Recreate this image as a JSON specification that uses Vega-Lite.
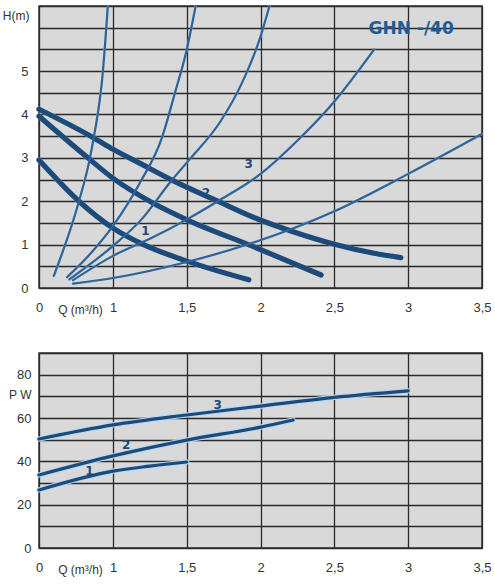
{
  "$schema": "https://vega.github.io/schema/vega-lite/v6.json",
  "padding": {"left": 1, "top": 0, "right": 8, "bottom": 5},
  "background": "white",
  "spacing": 36,
  "config": {
    "view": {"fill": "#d9d9d9", "stroke": "#333333", "strokeWidth": 1.5},
    "axis": {
      "grid": true, "gridColor": "#2a2a2a", "gridWidth": 1.3, "gridOpacity": 1,
      "domain": false, "ticks": false,
      "labelFont": "Liberation Sans", "labelFontSize": 13, "labelColor": "#333333",
      "titleFont": "Liberation Sans", "titleFontWeight": "normal", "titleColor": "#333333", "titleFontSize": 12
    }
  },
  "datasets": {
    "head": [
      {"curve": "A", "kind": "thick", "q": 0, "h": 4.12},
      {"curve": "A", "kind": "thick", "q": 0.74, "h": 3.46},
      {"curve": "A", "kind": "thick", "q": 1.0, "h": 3.2},
      {"curve": "A", "kind": "thick", "q": 1.19, "h": 2.86},
      {"curve": "A", "kind": "thick", "q": 1.41, "h": 2.47},
      {"curve": "A", "kind": "thick", "q": 1.71, "h": 2.0},
      {"curve": "A", "kind": "thick", "q": 1.98, "h": 1.59},
      {"curve": "A", "kind": "thick", "q": 2.21, "h": 1.31},
      {"curve": "A", "kind": "thick", "q": 2.5, "h": 1.01},
      {"curve": "A", "kind": "thick", "q": 2.77, "h": 0.8},
      {"curve": "A", "kind": "thick", "q": 2.95, "h": 0.7},
      {"curve": "B", "kind": "thick", "q": 0, "h": 3.96},
      {"curve": "B", "kind": "thick", "q": 0.66, "h": 3.0},
      {"curve": "B", "kind": "thick", "q": 1.0, "h": 2.53},
      {"curve": "B", "kind": "thick", "q": 1.27, "h": 1.96},
      {"curve": "B", "kind": "thick", "q": 1.49, "h": 1.59},
      {"curve": "B", "kind": "thick", "q": 1.94, "h": 0.97},
      {"curve": "B", "kind": "thick", "q": 2.41, "h": 0.3},
      {"curve": "C", "kind": "thick", "q": 0, "h": 2.95},
      {"curve": "C", "kind": "thick", "q": 0.54, "h": 2.0},
      {"curve": "C", "kind": "thick", "q": 1.0, "h": 1.38},
      {"curve": "C", "kind": "thick", "q": 1.2, "h": 1.01},
      {"curve": "C", "kind": "thick", "q": 1.5, "h": 0.62},
      {"curve": "C", "kind": "thick", "q": 1.92, "h": 0.19},
      {"curve": "T1", "kind": "thin", "q": 0.2, "h": 0.28},
      {"curve": "T1", "kind": "thin", "q": 0.54, "h": 2.0},
      {"curve": "T1", "kind": "thin", "q": 0.68, "h": 2.93},
      {"curve": "T1", "kind": "thin", "q": 0.74, "h": 3.47},
      {"curve": "T1", "kind": "thin", "q": 0.8, "h": 4.08},
      {"curve": "T1", "kind": "thin", "q": 0.85, "h": 4.75},
      {"curve": "T1", "kind": "thin", "q": 0.93, "h": 6.5},
      {"curve": "T2", "kind": "thin", "q": 0.38, "h": 0.25},
      {"curve": "T2", "kind": "thin", "q": 0.7, "h": 0.8},
      {"curve": "T2", "kind": "thin", "q": 1.0, "h": 1.43},
      {"curve": "T2", "kind": "thin", "q": 1.19, "h": 2.47},
      {"curve": "T2", "kind": "thin", "q": 1.33, "h": 3.45},
      {"curve": "T2", "kind": "thin", "q": 1.42, "h": 4.5},
      {"curve": "T2", "kind": "thin", "q": 1.5, "h": 5.5},
      {"curve": "T2", "kind": "thin", "q": 1.56, "h": 6.5},
      {"curve": "T3", "kind": "thin", "q": 0.41, "h": 0.2},
      {"curve": "T3", "kind": "thin", "q": 1.0, "h": 0.97},
      {"curve": "T3", "kind": "thin", "q": 1.19, "h": 1.57},
      {"curve": "T3", "kind": "thin", "q": 1.39, "h": 2.45},
      {"curve": "T3", "kind": "thin", "q": 1.51, "h": 2.93},
      {"curve": "T3", "kind": "thin", "q": 1.73, "h": 3.85},
      {"curve": "T3", "kind": "thin", "q": 1.87, "h": 4.7},
      {"curve": "T3", "kind": "thin", "q": 2.0, "h": 5.8},
      {"curve": "T3", "kind": "thin", "q": 2.06, "h": 6.5},
      {"curve": "T4", "kind": "thin", "q": 0.46, "h": 0.18},
      {"curve": "T4", "kind": "thin", "q": 1.0, "h": 0.74},
      {"curve": "T4", "kind": "thin", "q": 1.26, "h": 1.15},
      {"curve": "T4", "kind": "thin", "q": 1.51, "h": 1.6},
      {"curve": "T4", "kind": "thin", "q": 1.71, "h": 2.0},
      {"curve": "T4", "kind": "thin", "q": 2.0, "h": 2.63},
      {"curve": "T4", "kind": "thin", "q": 2.25, "h": 3.4},
      {"curve": "T4", "kind": "thin", "q": 2.5, "h": 4.3},
      {"curve": "T4", "kind": "thin", "q": 2.77, "h": 5.5},
      {"curve": "T5", "kind": "thin", "q": 0.46, "h": 0.1},
      {"curve": "T5", "kind": "thin", "q": 1.0, "h": 0.23},
      {"curve": "T5", "kind": "thin", "q": 1.5, "h": 0.6},
      {"curve": "T5", "kind": "thin", "q": 1.9, "h": 0.99},
      {"curve": "T5", "kind": "thin", "q": 2.5, "h": 1.77},
      {"curve": "T5", "kind": "thin", "q": 3.0, "h": 2.63},
      {"curve": "T5", "kind": "thin", "q": 3.5, "h": 3.55}
    ],
    "headLabels": [
      {"q": 1.22, "h": 1.31, "text": "1"},
      {"q": 1.63, "h": 2.19, "text": "2"},
      {"q": 1.92, "h": 2.86, "text": "3"}
    ],
    "power": [
      {"curve": "3", "q": 0, "p": 50.3},
      {"curve": "3", "q": 1.0, "p": 56.8},
      {"curve": "3", "q": 1.5, "p": 61.4},
      {"curve": "3", "q": 2.0, "p": 65.5},
      {"curve": "3", "q": 2.5, "p": 69.5},
      {"curve": "3", "q": 3.0, "p": 72.5},
      {"curve": "2", "q": 0, "p": 33.7},
      {"curve": "2", "q": 1.0, "p": 42.5},
      {"curve": "2", "q": 1.5, "p": 49.8},
      {"curve": "2", "q": 2.0, "p": 55.8},
      {"curve": "2", "q": 2.22, "p": 59.1},
      {"curve": "1", "q": 0, "p": 26.8},
      {"curve": "1", "q": 1.0, "p": 35.5},
      {"curve": "1", "q": 1.25, "p": 37.8},
      {"curve": "1", "q": 1.5, "p": 39.7}
    ],
    "powerLabels": [
      {"q": 0.68, "p": 35.5, "text": "1"},
      {"q": 1.09, "p": 47.5, "text": "2"},
      {"q": 1.71, "p": 66, "text": "3"}
    ]
  },
  "vconcat": [
    {
      "width": 443,
      "height": 282,
      "encoding": {
        "x": {
          "field": "q", "type": "quantitative",
          "scale": {"domain": [0, 1, 3.5], "range": [0, 74, 443], "nice": false},
          "axis": {
            "values": [0, 1, 1.5, 2, 2.5, 3, 3.5],
            "labelExpr": "replace(format(datum.value, '~g'), '.', ',')",
            "labelPadding": 13, "labelFlush": false,
            "title": "Q (m³/h)", "titleX": 41, "titleY": 21,
            "titleBaseline": "middle", "titleAlign": "center"
          }
        },
        "y": {
          "field": "h", "type": "quantitative",
          "scale": {"domain": [0, 6.5], "nice": false},
          "axis": {
            "values": [0, 0.5, 1, 1.5, 2, 2.5, 3, 3.5, 4, 4.5, 5, 5.5, 6, 6.5],
            "labelExpr": "datum.value % 1 == 0 && datum.value <= 5 ? format(datum.value, 'd') : ''",
            "labelPadding": 11,
            "title": "H(m)", "titleAngle": 0, "titleAlign": "right",
            "titleX": -10, "titleY": 9, "titleBaseline": "middle"
          }
        }
      },
      "layer": [
        {
          "data": {"values": [{"box": "title"}]},
          "mark": {"type": "rect", "fill": "#d9d9d9", "stroke": null},
          "encoding": {
            "x": {"datum": 2.51, "type": "quantitative"},
            "x2": {"datum": 3.49},
            "y": {"datum": 5.53, "type": "quantitative"},
            "y2": {"datum": 6.48}
          }
        },
        {
          "data": {"name": "head"},
          "mark": {"type": "line", "interpolate": "monotone", "strokeCap": "round", "color": "#b3d9f5"},
          "encoding": {
            "detail": {"field": "curve"},
            "strokeWidth": {"field": "kind", "type": "nominal", "scale": {"domain": ["thin", "thick"], "range": [2.2, 5.2]}, "legend": null}
          }
        },
        {
          "data": {"name": "head"},
          "mark": {"type": "line", "interpolate": "monotone", "strokeCap": "round"},
          "encoding": {
            "detail": {"field": "curve"},
            "color": {"field": "kind", "type": "nominal", "scale": {"domain": ["thin", "thick"], "range": ["#2f6398", "#1d4a78"]}, "legend": null},
            "strokeWidth": {"field": "kind", "type": "nominal", "scale": {"domain": ["thin", "thick"], "range": [0.9, 3.2]}, "legend": null}
          }
        },
        {
          "data": {"name": "headLabels"},
          "mark": {"type": "text", "font": "DejaVu Sans", "fontWeight": "bold", "fontSize": 12, "color": "#1d4a78", "baseline": "middle"},
          "encoding": {"text": {"field": "text"}}
        },
        {
          "data": {"values": [{"q": 3.02, "h": 5.97, "text": "GHN -/40"}]},
          "mark": {"type": "text", "font": "DejaVu Sans", "fontWeight": "bold", "fontSize": 17, "color": "#1f5c96", "baseline": "middle", "align": "center"},
          "encoding": {"text": {"field": "text"}}
        }
      ]
    },
    {
      "width": 443,
      "height": 195,
      "encoding": {
        "x": {
          "field": "q", "type": "quantitative",
          "scale": {"domain": [0, 1, 3.5], "range": [0, 74, 443], "nice": false},
          "axis": {
            "values": [0, 1, 1.5, 2, 2.5, 3, 3.5],
            "labelExpr": "replace(format(datum.value, '~g'), '.', ',')",
            "labelPadding": 13, "labelFlush": false,
            "title": "Q (m³/h)", "titleX": 41, "titleY": 21,
            "titleBaseline": "middle", "titleAlign": "center"
          }
        },
        "y": {
          "field": "p", "type": "quantitative",
          "scale": {"domain": [0, 90], "nice": false},
          "axis": {
            "values": [0, 10, 20, 30, 40, 50, 60, 70, 80, 90],
            "labelExpr": "datum.value % 20 == 0 ? format(datum.value, 'd') : ''",
            "labelPadding": 8,
            "title": "P W", "titleAngle": 0, "titleAlign": "right",
            "titleX": -8, "titleY": 41, "titleBaseline": "middle"
          }
        }
      },
      "layer": [
        {
          "data": {"name": "power"},
          "mark": {"type": "line", "interpolate": "monotone", "strokeCap": "round", "color": "#b3d9f5", "strokeWidth": 5.2},
          "encoding": {"detail": {"field": "curve"}}
        },
        {
          "data": {"name": "power"},
          "mark": {"type": "line", "interpolate": "monotone", "strokeCap": "round", "color": "#1d4a78", "strokeWidth": 3.2},
          "encoding": {"detail": {"field": "curve"}}
        },
        {
          "data": {"name": "powerLabels"},
          "mark": {"type": "text", "font": "DejaVu Sans", "fontWeight": "bold", "fontSize": 12, "color": "#1d4a78", "baseline": "middle"},
          "encoding": {"text": {"field": "text"}}
        }
      ]
    }
  ]
}
